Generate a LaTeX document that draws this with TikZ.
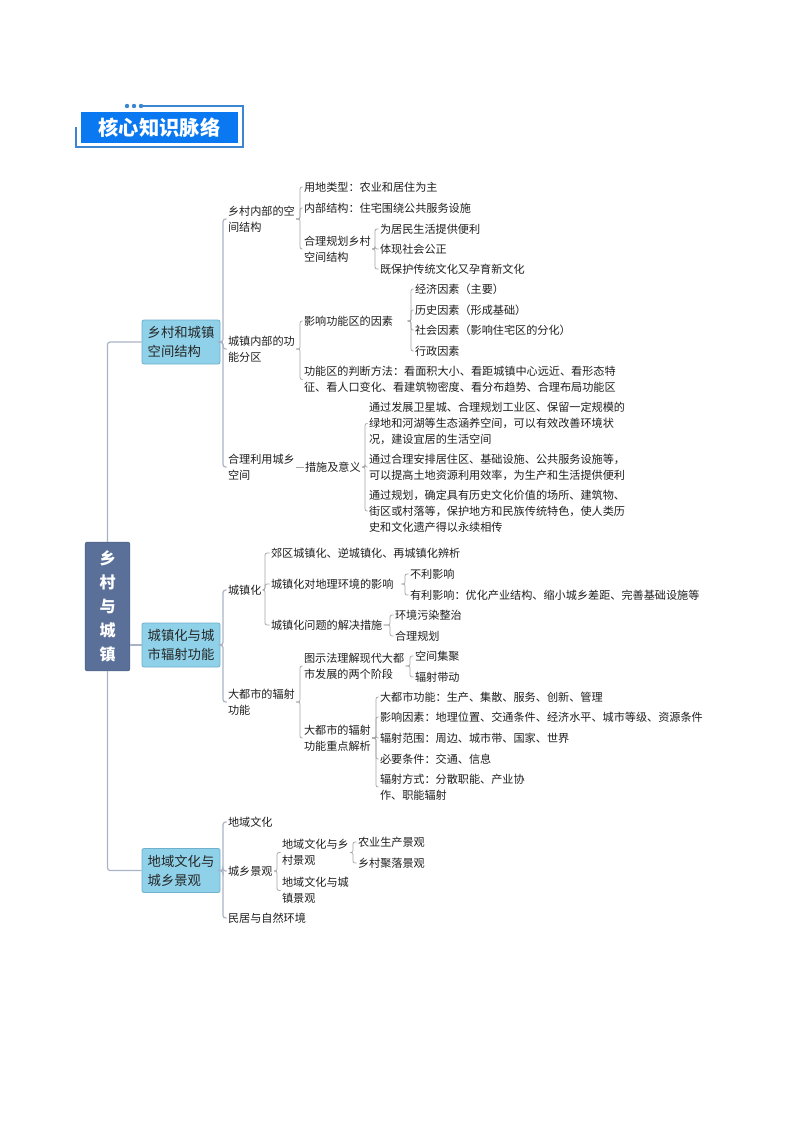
\documentclass[tikz,border=0pt]{standalone}
\usepackage{fontspec}
\setmainfont{Noto Sans CJK SC}
\definecolor{hdrblue}{HTML}{0A78F0}
\definecolor{hdrline}{HTML}{3C85D0}
\definecolor{mainfill}{HTML}{5A7099}
\definecolor{mainedge}{HTML}{4E6389}
\definecolor{boxfill}{HTML}{8FD1E8}
\definecolor{boxedge}{HTML}{6FB0CC}
\definecolor{trunkcol}{HTML}{A9B3C6}
\definecolor{linkcol}{HTML}{A6A6A6}
\tikzset{
  x=0.75pt,y=-0.75pt,
  txt/.style={anchor=west,align=left,inner sep=0pt,outer sep=1pt,xshift=-1pt,text=black!88,
    font=\fontsize{8.35pt}{12pt}\selectfont},
  lvlbox/.style={draw=boxedge,fill=boxfill,rounded corners=1.5pt,line width=0.6pt,
    minimum width=58.5pt,minimum height=33pt,inner sep=0pt,align=left,text=black!85,
    font=\fontsize{10pt}{14.3pt}\selectfont},
  mainbox/.style={draw=mainedge,fill=mainfill,rounded corners=1.5pt,line width=0.5pt,
    minimum width=33.5pt,minimum height=96.5pt,inner sep=0pt,align=center,text=white,
    font=\fontsize{12pt}{18pt}\selectfont\bfseries},
  trunk/.style={draw=trunkcol,line width=0.9pt,rounded corners=2pt},
  link/.style={draw=linkcol,line width=0.55pt,rounded corners=1.5pt},
  hdrbox/.style={fill=hdrblue,minimum width=117.5pt,minimum height=23.5pt,inner sep=0pt,
    text=white,font=\fontsize{15.2pt}{15.2pt}\selectfont\bfseries},
  hdrrule/.style={draw=hdrline,line width=0.9pt},
  hdrdot/.style={circle,fill=hdrline,inner sep=0pt,minimum size=3.3pt}
}
\newcommand\forkto[3]{\draw[link] (#1.east) -- (#1.east -| #2,0) |- (#3.west);}
\newcommand\forkgap[4]{\draw[link] ([xshift=#2]#1.east) -- (#1.east -| #3,0) |- (#4.west);}
\begin{document}
\begin{tikzpicture}
\useasboundingbox (0,0) rectangle (794,1123);
\fill[white] (0,0) rectangle (794,1123);

% header
\draw[hdrrule] (143,106) -- (243,106) -- (243,147) -- (76,147) -- (76,127);
\node[hdrdot] (d1) at (127,106) {};
\node[hdrdot] (d2) at (134,106) {};
\node[hdrdot] (d3) at (141,106) {};
\node[hdrbox] (hdr) at (159.5,127.5) {核心知识脉络};

% main and level-one boxes
\node[mainbox] (main) at (107.5,606.5) {乡\\[0pt]村\\[0pt]与\\[0pt]城\\[0pt]镇};
\node[lvlbox] (b1) at (181,342) {乡村和城镇\\空间结构};
\node[lvlbox] (b2) at (181,645) {城镇化与城\\市辐射功能};
\node[lvlbox] (b3) at (181,870.5) {地域文化与\\城乡景观};

% branch 1
\node[txt] (a1) at (228,219) {乡村内部的空\\间结构};
\node[txt] (a2) at (228,349) {城镇内部的功\\能分区};
\node[txt] (a3) at (228,467) {合理利用城乡\\空间};
\node[txt] (a11) at (304,187) {用地类型：农业和居住为主};
\node[txt] (a12) at (304,208) {内部结构：住宅围绕公共服务设施};
\node[txt] (a13) at (304,249) {合理规划乡村\\空间结构};
\node[txt] (a131) at (380,229) {为居民生活提供便利};
\node[txt] (a132) at (380,249) {体现社会公正};
\node[txt] (a133) at (380,269) {既保护传统文化又孕育新文化};
\node[txt] (a21) at (304,321) {影响功能区的因素};
\node[txt] (a22) at (304,379.5) {功能区的判断方法：看面积大小、看距城镇中心远近、看形态特\\征、看人口变化、看建筑物密度、看分布趋势、合理布局功能区};
\node[txt] (a211) at (415,289) {经济因素（主要）};
\node[txt] (a212) at (415,310) {历史因素（形成基础）};
\node[txt] (a213) at (415,330) {社会因素（影响住宅区的分化）};
\node[txt] (a214) at (415,351) {行政因素};
\node[txt] (a31) at (305,467) {措施及意义};
\node[txt] (a311) at (369,423.5) {通过发展卫星城、合理规划工业区、保留一定规模的\\绿地和河湖等生态涵养空间，可以有效改善环境状\\况，建设宜居的生活空间};
\node[txt] (a312) at (369,467) {通过合理安排居住区、基础设施、公共服务设施等，\\可以提高土地资源利用效率，为生产和生活提供便利};
\node[txt] (a313) at (369,511) {通过规划，确定具有历史文化价值的场所、建筑物、\\街区或村落等，保护地方和民族传统特色，使人类历\\史和文化遗产得以永续相传};

% branch 2
\node[txt] (c1) at (228,590) {城镇化};
\node[txt] (c2) at (228,702) {大都市的辐射\\功能};
\node[txt] (c11) at (271,553) {郊区城镇化、逆城镇化、再城镇化辨析};
\node[txt] (c12) at (271,584) {城镇化对地理环境的影响};
\node[txt] (c13) at (271,625) {城镇化问题的解决措施};
\node[txt] (c121) at (410,574) {不利影响};
\node[txt] (c122) at (410,595) {有利影响：优化产业结构、缩小城乡差距、完善基础设施等};
\node[txt] (c131) at (395,615) {环境污染整治};
\node[txt] (c132) at (395,636) {合理规划};
\node[txt] (c21) at (304,666) {图示法理解现代大都\\市发展的两个阶段};
\node[txt] (c22) at (304,738) {大都市的辐射\\功能重点解析};
\node[txt] (c211) at (415,656) {空间集聚};
\node[txt] (c212) at (415,677) {辐射带动};
\node[txt] (c221) at (380,697) {大都市功能：生产、集散、服务、创新、管理};
\node[txt] (c222) at (380,717) {影响因素：地理位置、交通条件、经济水平、城市等级、资源条件};
\node[txt] (c223) at (380,738) {辐射范围：周边、城市带、国家、世界};
\node[txt] (c224) at (380,759) {必要条件：交通、信息};
\node[txt] (c225) at (380,787) {辐射方式：分散职能、产业协\\作、职能辐射};

% branch 3
\node[txt] (e1) at (228,822) {地域文化};
\node[txt] (e2) at (228,871) {城乡景观};
\node[txt] (e3) at (228,918) {民居与自然环境};
\node[txt] (e21) at (282,852.5) {地域文化与乡\\村景观};
\node[txt] (e22) at (282,890.5) {地域文化与城\\镇景观};
\node[txt] (e211) at (358,842) {农业生产景观};
\node[txt] (e212) at (358,863) {乡村聚落景观};

% trunk connectors
\draw[trunk] (main.north) |- (b1.west);
\draw[trunk] (main.south) |- (b3.west);
\draw[trunk] (main.east |- b2.west) -- (b2.west);

\foreach \c in {a1,a2,a3} {\draw[trunk] (b1.east) -- (b1.east -| 223,0) |- (\c.west);}
\foreach \c in {c1,c2} {\draw[trunk] (b2.east) -- (b2.east -| 223,0) |- (\c.west);}
\foreach \c in {e1,e2,e3} {\draw[trunk] (b3.east) -- (b3.east -| 223,0) |- (\c.west);}

% thin connectors
\foreach \c in {a11,a12,a13} {\forkto{a1}{300}{\c}}
\foreach \c in {a131,a132,a133} {\forkto{a13}{375}{\c}}
\foreach \c in {a21,a22} {\forkto{a2}{300}{\c}}
\foreach \c in {a211,a212,a213,a214} {\forkgap{a21}{10pt}{411}{\c}}
\draw[link] (a3.east) -- (a31.west);
\foreach \c in {a311,a312,a313} {\forkto{a31}{365}{\c}}
\foreach \c in {c11,c12,c13} {\forkto{c1}{265}{\c}}
\foreach \c in {c121,c122} {\forkgap{c12}{5pt}{405}{\c}}
\foreach \c in {c131,c132} {\forkto{c13}{390}{\c}}
\foreach \c in {c21,c22} {\forkto{c2}{300}{\c}}
\foreach \c in {c211,c212} {\forkto{c21}{410}{\c}}
\foreach \c in {c221,c222,c223,c224,c225} {\forkto{c22}{376}{\c}}
\foreach \c in {e21,e22} {\forkto{e2}{277}{\c}}
\foreach \c in {e211,e212} {\forkto{e21}{353}{\c}}
\end{tikzpicture}
\end{document}
